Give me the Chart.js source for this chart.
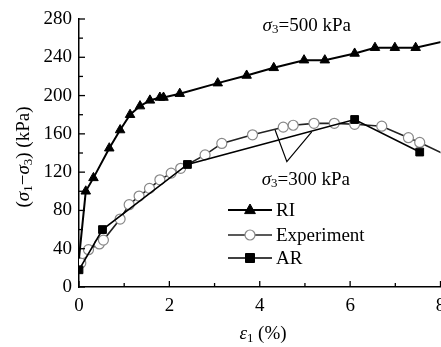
<!DOCTYPE html>
<html>
<head>
<meta charset="utf-8">
<script src="https://cdn.jsdelivr.net/npm/chart.js@4.4.0/dist/chart.umd.min.js"></script>
<style>
  html, body { margin: 0; padding: 0; background: #fff; overflow: hidden; }
  #wrap { width: 447px; height: 347px; }
</style>
</head>
<body>
<div id="wrap"><canvas id="myChart"></canvas></div>
<script>
// strain (%) vs deviator stress (kPa)
const riStrain = [0, 0.15, 0.32, 0.67, 0.91, 1.13, 1.35, 1.57, 1.79, 1.87, 2.23, 3.07, 3.71, 4.31, 4.98, 5.44, 6.1, 6.55, 6.99, 7.45, 8.3];
const riStress = [30, 100, 114, 145, 164, 180, 189, 195, 198, 198, 202, 213, 221, 229, 237, 237, 244, 250, 250, 250, 259];

const expStrain = [0.04, 0.08, 0.21, 0.45, 0.54, 0.91, 1.11, 1.33, 1.56, 1.79, 2.04, 2.25, 2.79, 3.16, 3.84, 4.52, 4.74, 5.2, 5.65, 6.1, 6.7, 7.29, 7.54, 8.3];
const expStress = [25, 35, 39, 45, 49, 71, 86, 95, 103, 112, 119, 124, 138, 150, 159, 167, 169, 171, 171, 170, 168, 156, 151, 134];

const arStrain = [0, 0.52, 2.4, 6.1, 7.54];
const arStress = [18, 60, 128, 175, 141];

const xTicks = [0, 2, 4, 6, 8];
const yTicks = [0, 40, 80, 120, 160, 200, 240, 280];

const legendNames = ['RI', 'Experiment', 'AR'];

const serif = '"Liberation Serif", "DejaVu Serif", serif';
const ctx = document.getElementById("myChart").getContext("2d");

function pts(xs, ys) {
    return xs.map((x, i) => ({ x: x, y: ys[i] }));
}

// draws text pieces like σ3 with italics / subscripts
function drawRich(c, parts, x, y, size, align) {
    let widths = parts.map(p => {
        c.font = (p.it ? 'italic ' : '') + (p.sub ? size * 0.68 : size) + 'px ' + serif;
        return c.measureText(p.t).width;
    });
    let total = widths.reduce((a, b) => a + b, 0);
    let cx = align === 'center' ? x - total / 2 : x;
    parts.forEach((p, i) => {
        c.font = (p.it ? 'italic ' : '') + (p.sub ? size * 0.68 : size) + 'px ' + serif;
        c.fillText(p.t, cx, p.sub ? y + size * 0.22 : y);
        cx += widths[i];
    });
    return total;
}

function drawMarker(c, style, x, y, r) {
    c.beginPath();
    if (style === 'triangle') {
        c.moveTo(x, y - r);
        c.lineTo(x + r * 0.9, y + r * 0.6);
        c.lineTo(x - r * 0.9, y + r * 0.6);
        c.closePath();
    } else if (style === 'rect') {
        c.rect(x - r * 0.75, y - r * 0.75, r * 1.5, r * 1.5);
    } else {
        c.arc(x, y, r, 0, Math.PI * 2);
    }
    c.fill();
    c.stroke();
}

const extras = {
    id: 'extras',
    afterDraw(chart) {
        const c = chart.ctx;
        const xs = chart.scales.x, ys = chart.scales.y;
        const area = chart.chartArea;
        c.save();
        c.strokeStyle = '#000';
        c.fillStyle = '#000';
        c.lineWidth = 1.3;
        // inward ticks, major + minor
        for (let v = 0; v <= 8; v += 1) {
            let px = xs.getPixelForValue(v);
            let len = v % 2 === 0 ? 6 : 4;
            c.beginPath(); c.moveTo(px, area.bottom); c.lineTo(px, area.bottom - len); c.stroke();
        }
        for (let v = 0; v <= 280; v += 20) {
            let py = ys.getPixelForValue(v);
            let len = v % 40 === 0 ? 6 : 4;
            c.beginPath(); c.moveTo(area.left, py); c.lineTo(area.left + len, py); c.stroke();
        }

        // pointer lines to the 300 kPa curves
        c.lineWidth = 1.2;
        c.beginPath();
        c.moveTo(xs.getPixelForValue(4.34), ys.getPixelForValue(164));
        c.lineTo(xs.getPixelForValue(4.6), ys.getPixelForValue(131));
        c.lineTo(xs.getPixelForValue(5.15), ys.getPixelForValue(162));
        c.stroke();

        c.textBaseline = 'middle';
        drawRich(c, [{ t: 'σ', it: true }, { t: '3', sub: true }, { t: '=500 kPa' }],
            xs.getPixelForValue(5.04), ys.getPixelForValue(273), 19, 'center');
        drawRich(c, [{ t: 'σ', it: true }, { t: '3', sub: true }, { t: '=300 kPa' }],
            xs.getPixelForValue(5.02), ys.getPixelForValue(112), 19, 'center');

        // legend
        const rows = [210, 235, 258];
        chart.data.datasets.forEach((ds, i) => {
            let y = rows[i];
            c.strokeStyle = ds.borderColor;
            c.lineWidth = ds.borderWidth;
            c.beginPath(); c.moveTo(228, y); c.lineTo(272, y); c.stroke();
            c.fillStyle = ds.pointBackgroundColor;
            c.strokeStyle = ds.pointBorderColor;
            c.lineWidth = ds.pointBorderWidth;
            drawMarker(c, ds.pointStyle, 250, y, ds.legendR);
            c.fillStyle = '#000';
            c.font = '19px ' + serif;
            c.textAlign = 'left';
            c.fillText(legendNames[i], 276, y + 1);
        });

        // axis titles
        drawRich(c, [{ t: 'ε', it: true }, { t: '1', sub: true }, { t: ' (%)' }], 263, 334, 19, 'center');
        c.translate(24, 157);
        c.rotate(-Math.PI / 2);
        drawRich(c, [{ t: '(' }, { t: 'σ', it: true }, { t: '1', sub: true }, { t: '−' },
            { t: 'σ', it: true }, { t: '3', sub: true }, { t: ') (kPa)' }], 0, 0, 19, 'center');
        c.restore();
    }
};

const data = {
    datasets: [{
        label: legendNames[0],
        data: pts(riStrain, riStress),
        borderColor: '#000',
        borderWidth: 2,
        pointStyle: 'triangle',
        pointRadius: riStrain.map((v, i) => i === 0 ? 0 : 5.5),
        pointBackgroundColor: '#000',
        pointBorderColor: '#000',
        pointBorderWidth: 1,
        legendR: 6,
        order: 1
    }, {
        label: legendNames[1],
        data: pts(expStrain, expStress),
        borderColor: '#222',
        borderWidth: 1.6,
        pointStyle: 'circle',
        pointRadius: 5,
        pointBackgroundColor: '#fff',
        pointBorderColor: '#888',
        pointBorderWidth: 1.2,
        legendR: 5,
        order: 3
    }, {
        label: legendNames[2],
        data: pts(arStrain, arStress),
        borderColor: '#000',
        borderWidth: 1.6,
        pointStyle: 'rect',
        pointRadius: 5.5,
        pointBackgroundColor: '#000',
        pointBorderColor: '#000',
        pointBorderWidth: 1,
        legendR: 6,
        order: 2
    }]
};

const config = {
    type: 'line',
    data: data,
    options: {
        responsive: true,
        maintainAspectRatio: false,
        animation: false,
        layout: { padding: { top: 19, right: 1, left: 0, bottom: 0 } },
        plugins: { legend: { display: false }, tooltip: { enabled: false } },
        elements: { line: { tension: 0 } },
        scales: {
            x: {
                type: 'linear',
                min: 0, max: 8,
                afterFit: (s) => { s.height = 60; s.paddingRight = 0; s.paddingLeft = 0; },
                afterBuildTicks: (s) => { s.ticks = xTicks.map(v => ({ value: v })); },
                grid: { display: false, drawTicks: false },
                border: { color: '#000', width: 1.5 },
                ticks: { color: '#000', padding: 8, font: { family: serif, size: 19 }, maxRotation: 0 }
            },
            y: {
                min: 0, max: 280,
                afterFit: (s) => { s.width = 79; s.paddingTop = 0; s.paddingBottom = 0; },
                afterBuildTicks: (s) => { s.ticks = yTicks.map(v => ({ value: v })); },
                grid: { display: false, drawTicks: false },
                border: { color: '#000', width: 1.5 },
                ticks: { color: '#000', padding: 7, font: { family: serif, size: 19 } }
            }
        }
    },
    plugins: [extras]
};

const myChart = new Chart(ctx, config);
</script>
</body>
</html>
